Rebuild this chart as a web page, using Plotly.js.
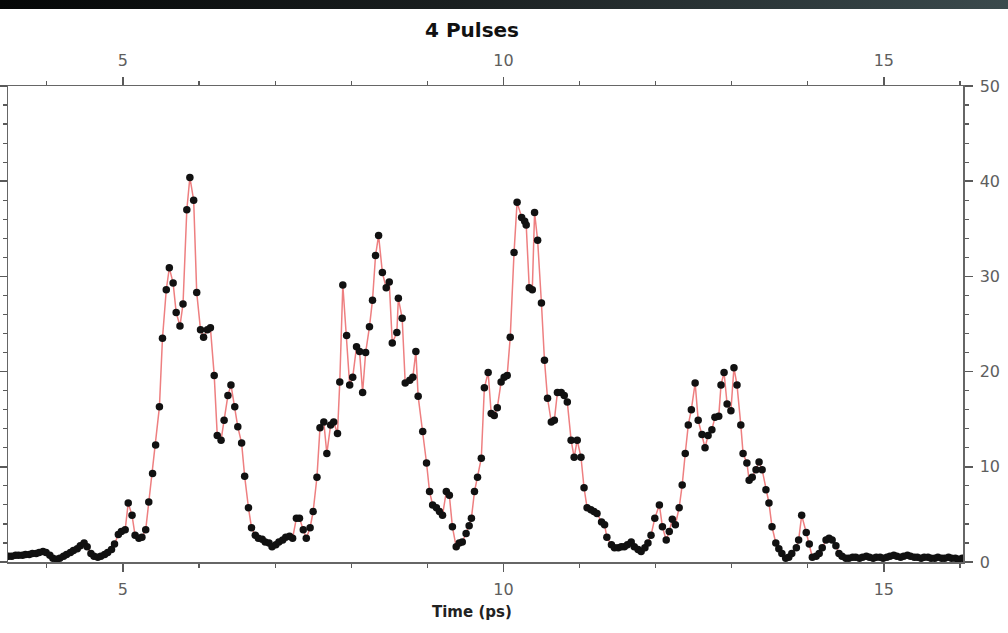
<!DOCTYPE html>
<html>
<head>
<meta charset="utf-8">
<script src="https://cdn.plot.ly/plotly-3.0.1.min.js"></script>
<style>
html,body{margin:0;padding:0;background:#fff;overflow:hidden;}
#chart{width:1008px;height:633px;}
#topbar{position:absolute;left:0;top:0;width:1008px;height:9px;background:linear-gradient(to right,#050707 0%,#1a1f20 45%,#3b4a4d 100%);}
</style>
</head>
<body>
<div id="chart"></div>
<div id="topbar"></div>
<script>
const timePs = [
 3.50,3.54,3.59,3.63,3.68,3.72,3.77,3.81,3.86,3.90,3.95,3.99,4.04,4.08,4.13,4.17,4.22,4.26,4.31,4.35,
 4.40,4.44,4.49,4.53,4.58,4.62,4.67,4.71,4.76,4.80,4.85,4.89,4.94,4.98,5.03,
 5.07,5.12,5.16,5.21,5.25,5.30,5.34,5.39,5.43,5.48,5.52,5.57,5.61,5.66,5.70,5.75,5.79,5.84,5.88,5.93,
 5.97,6.02,6.06,6.11,6.15,6.20,6.24,6.29,6.33,6.38,6.42,6.47,6.51,6.56,6.60,6.65,6.69,6.74,
 6.78,6.83,6.87,6.92,6.96,7.01,7.05,7.10,7.14,7.19,7.23,7.28,7.32,7.37,7.41,7.46,7.50,7.55,7.59,7.64,
 7.68,7.73,7.77,7.82,
 7.85,7.89,7.94,7.98,8.02,8.07,8.11,8.15,8.19,8.24,8.28,8.32,8.36,8.41,8.46,8.50,8.54,8.60,8.62,8.67,
 8.71,8.77,8.81,8.85,8.88,8.94,8.99,9.03,9.07,9.12,9.16,9.20,9.25,9.29,9.33,9.38,9.42,9.46,9.51,9.55,
 9.58,9.62,9.66,9.71,9.75,9.80,9.84,9.88,9.92,9.97,10.01,10.05,10.09,10.14,10.18,10.24,10.28,10.30,10.34,10.38,
 10.41,10.45,10.50,10.54,10.58,10.63,10.67,10.71,10.76,10.80,10.84,10.89,10.93,10.97,11.02,11.06,11.10,11.15,11.19,11.23,
 11.29,11.33,11.36,11.42,11.46,11.51,11.55,11.59,11.63,11.68,11.72,11.77,11.81,11.86,11.90,11.94,11.99,12.05,12.09,12.14,
 12.18,12.22,12.26,12.31,12.35,12.39,12.43,12.47,12.52,12.56,12.61,12.65,12.69,12.74,12.78,12.83,12.86,12.90,12.94,12.99,
 13.03,13.07,13.12,13.15,13.20,13.23,13.27,13.32,13.36,13.40,13.45,13.49,13.53,13.58,13.62,13.66,13.71,13.75,13.79,13.85,
 13.88,13.92,13.98,14.02,14.06,14.11,14.15,14.19,14.24,14.28,14.32,14.37,14.41,14.45,14.50,
 14.54,14.59,14.63,14.68,14.72,14.77,14.81,14.86,14.90,14.95,14.99,15.04,15.08,15.13,15.17,15.22,15.26,15.31,15.35,15.40,
 15.44,15.49,15.53,15.58,15.62,15.67,15.71,15.76,15.80,15.85,15.89,15.94,15.98,16.03
];
const signal = [
 0.6,0.6,0.7,0.7,0.7,0.8,0.8,0.9,0.9,1.0,1.1,1.0,0.7,0.4,0.3,0.4,0.6,0.8,1.0,1.2,
 1.4,1.7,2.0,1.6,0.9,0.6,0.5,0.6,0.8,1.0,1.3,1.9,2.9,3.2,3.4,
 6.2,4.9,2.8,2.5,2.6,3.4,6.3,9.3,12.3,16.3,23.5,28.6,30.9,29.3,26.2,24.8,27.1,37.0,40.4,38.0,
 28.3,24.4,23.6,24.4,24.6,19.6,13.3,12.8,14.9,17.5,18.6,16.3,14.2,12.5,9.0,5.7,3.6,2.8,
 2.5,2.4,2.1,2.0,1.6,1.8,2.1,2.3,2.6,2.7,2.5,4.6,4.6,3.4,2.5,3.6,5.3,8.9,14.1,14.7,
 11.4,14.4,14.7,13.5,
 18.9,29.1,23.8,18.6,19.4,22.6,22.1,17.8,22.0,24.7,27.5,32.2,34.3,30.4,28.8,29.4,23.0,24.1,27.7,25.6,
 18.8,19.1,19.4,22.1,17.4,13.7,10.4,7.4,6.0,5.7,5.3,4.9,7.4,7.0,3.7,1.6,2.0,2.1,3.0,3.8,
 4.6,7.4,8.9,10.9,18.3,19.9,15.6,15.4,16.2,18.9,19.4,19.6,23.6,32.5,37.8,36.2,35.8,35.4,28.8,28.6,
 36.7,33.8,27.2,21.2,17.2,14.7,14.9,17.8,17.8,17.5,16.8,12.8,11.0,12.8,11.0,7.8,5.7,5.5,5.3,5.1,
 4.2,3.9,2.6,1.8,1.5,1.5,1.6,1.6,1.8,2.1,1.6,1.3,1.1,1.5,2.0,2.8,4.6,6.0,3.7,2.3,
 3.2,4.5,3.9,5.7,8.1,11.4,14.4,16.0,18.8,14.9,13.4,12.0,13.3,13.9,15.2,15.3,18.6,19.9,16.6,15.9,
 20.4,18.6,14.4,11.4,10.4,8.6,8.9,9.7,10.5,9.7,7.6,6.2,3.7,2.0,1.4,0.9,0.4,0.5,0.9,1.5,
 2.3,4.9,3.1,1.9,0.5,0.6,0.9,1.5,2.3,2.5,2.3,1.7,0.9,0.6,0.4,
 0.4,0.5,0.5,0.4,0.5,0.6,0.5,0.4,0.5,0.5,0.4,0.5,0.6,0.7,0.6,0.5,0.6,0.7,0.6,0.5,
 0.5,0.4,0.5,0.5,0.4,0.4,0.5,0.4,0.4,0.5,0.4,0.4,0.3,0.4
];
const xTickVals = [5, 10, 15];
const xTickText = ['5', '10', '15'];
const yTickVals = [0, 10, 20, 30, 40, 50];
const yTickText = ['0', '10', '20', '30', '40', '50'];
const chartTitle = '4 Pulses';
const xLabel = 'Time (ps)';

const tickColor = '#5a5a5a';
const labelColor = '#5e5e5e';
const fontFam = 'DejaVu Sans, sans-serif';

const xCommon = {
  range: [3.49, 16.04],
  tickmode: 'array', tickvals: xTickVals, ticktext: xTickText,
  ticks: 'outside', ticklen: 8, tickwidth: 1.5, tickcolor: tickColor,
  ticklabelstandoff: 4,
  minor: {tickmode: 'linear', tick0: 0, dtick: 1, ticks: 'outside', ticklen: 4, tickwidth: 1.2, tickcolor: tickColor, showgrid: false},
  showline: true, linecolor: '#666', linewidth: 1.5,
  showgrid: false, zeroline: false,
  tickfont: {family: fontFam, size: 16, color: labelColor}
};

const traces = [
  {
    x: timePs, y: signal, type: 'scatter', mode: 'lines+markers',
    line: {color: '#ee7f80', width: 1.5},
    marker: {color: '#111', size: 7.5},
    hoverinfo: 'skip'
  },
  {
    x: [timePs[0]], y: [signal[0]], xaxis: 'x2', type: 'scatter', mode: 'markers',
    marker: {opacity: 0}, hoverinfo: 'skip', showlegend: false
  }
];

const layout = {
  width: 1008, height: 633,
  margin: {l: 8, r: 45, t: 86, b: 71, pad: 0},
  paper_bgcolor: '#ffffff', plot_bgcolor: '#ffffff',
  showlegend: false,
  font: {family: fontFam, color: labelColor},
  xaxis: Object.assign({}, xCommon, {side: 'bottom'}),
  xaxis2: Object.assign({}, xCommon, {side: 'top', overlaying: 'x', matches: 'x'}),
  yaxis: {
    range: [0, 50], side: 'right',
    tickmode: 'array', tickvals: yTickVals, ticktext: yTickText,
    ticks: 'outside', ticklen: 8, tickwidth: 1.5, tickcolor: tickColor,
    ticklabelstandoff: 4,
    minor: {tickmode: 'linear', tick0: 0, dtick: 2, ticks: 'outside', ticklen: 4, tickwidth: 1.2, tickcolor: tickColor, showgrid: false},
    mirror: 'ticks',
    showline: true, linecolor: '#666', linewidth: 1.5,
    showgrid: false, zeroline: false,
    tickfont: {family: fontFam, size: 16, color: labelColor}
  },
  annotations: [
    {text: chartTitle, xref: 'paper', yref: 'paper', x: 0.486, y: 1.118, xanchor: 'center', yanchor: 'middle',
     showarrow: false, font: {family: fontFam, size: 20, color: '#111', weight: 'bold'}},
    {text: xLabel, xref: 'paper', yref: 'paper', x: 0.486, y: -0.105, xanchor: 'center', yanchor: 'middle',
     showarrow: false, font: {family: fontFam, size: 15, color: '#222', weight: 'bold'}}
  ]
};

Plotly.newPlot('chart', traces, layout, {staticPlot: true, displayModeBar: false});
</script>
</body>
</html>
